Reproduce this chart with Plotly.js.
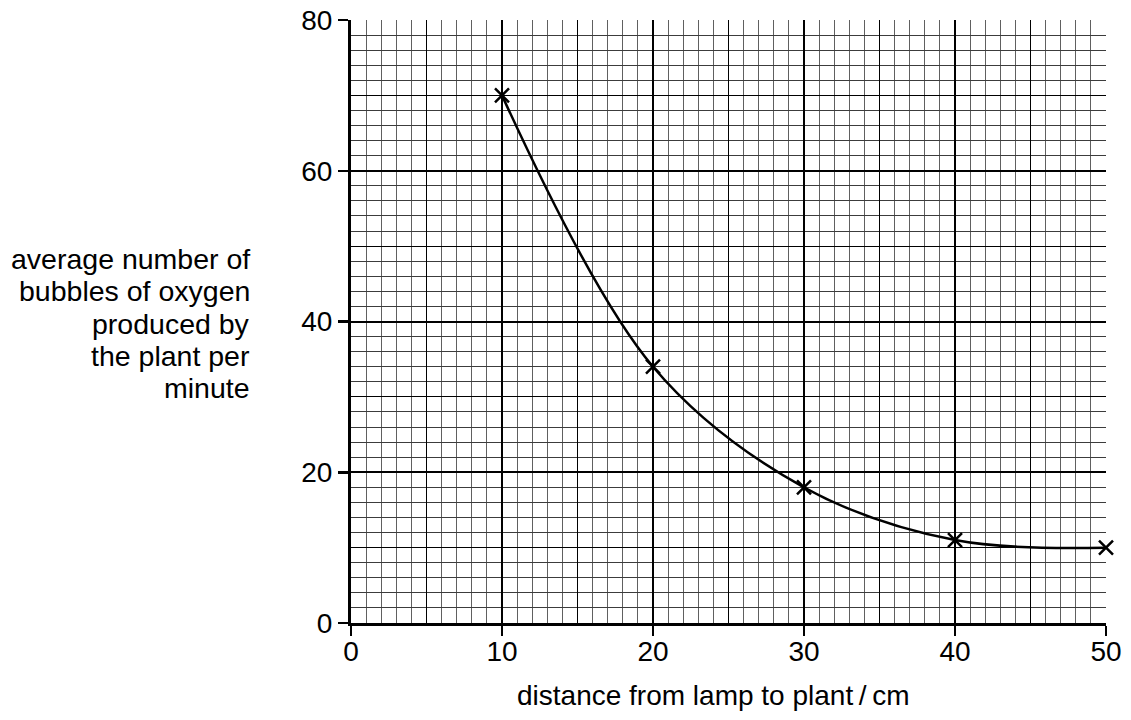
<!DOCTYPE html>
<html>
<head>
<meta charset="utf-8">
<script src="https://cdn.plot.ly/plotly-3.0.1.min.js"></script>
<style>html,body{margin:0;padding:0;background:#fff;}#chart{width:1131px;height:720px;}</style>
</head>
<body>
<div id="chart"></div>
<script>
// Data
const distance = [10, 20, 30, 40, 50];           // cm
const bubbles = [70, 34, 18, 11, 10];            // bubbles per minute
const xTitle = "distance from lamp to plant\u2009/\u2009cm";
const yTitleLines = ["average number of", "bubbles of oxygen", "produced by", "the plant per", "minute"];

const FONT = "Liberation Sans, Arial, Helvetica, sans-serif";

const traces = [
  {
    x: distance, y: bubbles, type: "scatter", mode: "lines",
    line: {color: "#000", width: 2.5, shape: "spline", smoothing: 1},
    hoverinfo: "skip", showlegend: false
  },
  {
    x: distance, y: bubbles, type: "scatter", mode: "markers", cliponaxis: false,
    marker: {symbol: "x-thin", size: 14, line: {color: "#000", width: 2.5}, color: "#000"},
    showlegend: false
  },
  { // empty trace that carries the overlay grid axes
    x: [], y: [], xaxis: "x2", yaxis: "y2", type: "scatter", mode: "markers",
    hoverinfo: "skip", showlegend: false
  }
];

const annotations = [];
annotations.push({
  text: xTitle, xref: "paper", yref: "paper", x: 0.48, y: -0.121,
  xanchor: "center", yanchor: "middle", showarrow: false,
  font: {family: FONT, size: 28, color: "#000"}
});
yTitleLines.forEach((t, i) => {
  annotations.push({
    text: t, xref: "paper", yref: "paper",
    x: -0.131, y: (623 - (259 + 32.3 * i)) / 603,
    xanchor: "right", yanchor: "middle", showarrow: false,
    font: {family: FONT, size: 28.5, color: "#000"}
  });
});

const layout = {
  width: 1131, height: 720,
  margin: {l: 351, r: 25, t: 20, b: 97},
  paper_bgcolor: "#fff", plot_bgcolor: "#fff",
  font: {family: FONT, size: 28, color: "#000"},
  showlegend: false,
  xaxis: {
    range: [0, 50], dtick: 10, tick0: 0,
    showgrid: true, gridcolor: "#000", gridwidth: 2,
    zeroline: false, showline: true, linecolor: "#000", linewidth: 3,
    ticks: "outside", ticklen: 10, tickwidth: 2.5, tickcolor: "#000",
    ticklabelstandoff: -9,
    tickfont: {family: FONT, size: 28, color: "#000"},
    minor: {dtick: 1, showgrid: true, gridcolor: "#606060", gridwidth: 1, ticks: ""},
    fixedrange: true
  },
  yaxis: {
    range: [0, 80], dtick: 20, tick0: 0,
    showgrid: true, gridcolor: "#000", gridwidth: 2,
    zeroline: false, showline: true, linecolor: "#000", linewidth: 3,
    ticks: "outside", ticklen: 10, tickwidth: 2.5, tickcolor: "#000",
    tickfont: {family: FONT, size: 28, color: "#000"},
    minor: {dtick: 2, showgrid: true, gridcolor: "#3c3c3c", gridwidth: 1, ticks: ""},
    fixedrange: true
  },
  xaxis2: {
    overlaying: "x", anchor: "y2", range: [0, 50], dtick: 5, tick0: 0,
    showgrid: true, gridcolor: "#000", gridwidth: 1,
    showticklabels: false, ticks: "", zeroline: false, showline: false, fixedrange: true
  },
  yaxis2: {
    overlaying: "y", anchor: "x2", range: [0, 80], dtick: 10, tick0: 0,
    showgrid: true, gridcolor: "#000", gridwidth: 1,
    showticklabels: false, ticks: "", zeroline: false, showline: false, fixedrange: true
  },
  annotations: annotations
};

Plotly.newPlot("chart", traces, layout, {displayModeBar: false, staticPlot: true});
</script>
</body>
</html>
